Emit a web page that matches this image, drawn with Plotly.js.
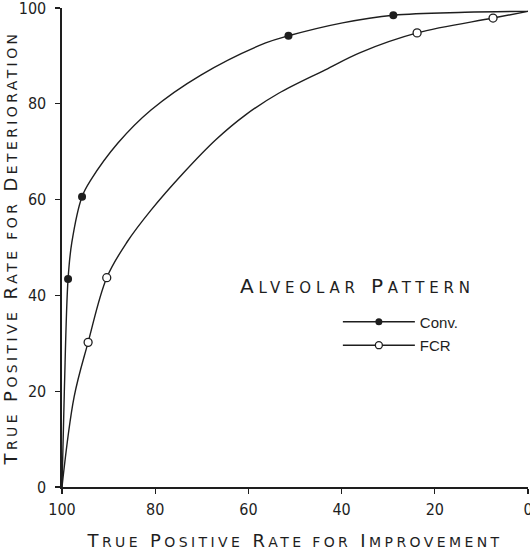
<!DOCTYPE html>
<html>
<head>
<meta charset="utf-8">
<script src="https://cdn.plot.ly/plotly-3.0.1.min.js"></script>
<style>
  html, body { margin: 0; padding: 0; background: #fff; }
  #chart { width: 530px; height: 555px; }
  .xtitle, .ytitle { letter-spacing: 3.4px; }
  .annotation-text { letter-spacing: 4.8px; }
</style>
</head>
<body>
<div id="chart"></div>
<script>
// Curve traces (x = TPR for improvement, y = TPR for deterioration)
const convCurveX = [100, 99.5, 98.7, 97.9, 95.7, 93.8, 88.0, 80.9, 70.2, 56.3, 51.4, 39.8, 28.9, 13.5, 0];
const convCurveY = [0, 20, 43.4, 51, 60.6, 64.1, 71.8, 78.7, 86.0, 92.7, 94.2, 96.9, 98.5, 99.1, 99.3];
const fcrCurveX = [100, 97.4, 94.4, 90.4, 86.0, 80.9, 74.0, 67.0, 60.6, 53.5, 43.5, 36.0, 23.8, 7.5, 0];
const fcrCurveY = [0, 18.8, 30.2, 43.7, 51.2, 57.8, 65.5, 72.5, 77.7, 82.2, 87.1, 90.7, 94.8, 97.9, 99.3];

// Plotted data points
const convX = [98.7, 95.7, 51.4, 28.9];
const convY = [43.4, 60.6, 94.2, 98.5];
const fcrX = [94.4, 90.4, 23.8, 7.5];
const fcrY = [30.2, 43.7, 94.8, 97.9];

const xTicks = [100, 80, 60, 40, 20, 0];
const yTicks = [0, 20, 40, 60, 80, 100];
const seriesNames = ['Conv.', 'FCR'];

const ink = '#1e1e1e';
const tickFont = {family: '"Liberation Sans Narrow", "DejaVu Sans Condensed", "Liberation Sans", sans-serif', size: 16, color: ink};
const titleFamily = '"DejaVu Sans", sans-serif';
const sc = s => '<span style="font-size:14px">' + s + '</span>';

const traces = [
  {x: convCurveX, y: convCurveY, mode: 'lines', line: {color: ink, width: 1.4, shape: 'spline', smoothing: 1}, showlegend: false, hoverinfo: 'skip'},
  {x: fcrCurveX, y: fcrCurveY, mode: 'lines', line: {color: ink, width: 1.4, shape: 'spline', smoothing: 1}, showlegend: false, hoverinfo: 'skip'},
  {x: convX, y: convY, mode: 'markers', marker: {size: 8, color: ink, symbol: 'circle'}, showlegend: false},
  {x: fcrX, y: fcrY, mode: 'markers', marker: {size: 8, color: '#fff', symbol: 'circle', line: {color: ink, width: 1.3}}, showlegend: false},
  {x: [null], y: [null], mode: 'lines+markers', name: seriesNames[0], legendgroup: 'a',
   line: {color: ink, width: 1.4}, marker: {size: 7, color: ink}},
  {x: [null], y: [null], mode: 'lines+markers', name: seriesNames[1], legendgroup: 'b',
   line: {color: ink, width: 1.4}, marker: {size: 7, color: '#fff', line: {color: ink, width: 1.3}}}
];

const layout = {
  width: 530, height: 555,
  margin: {l: 62, r: 2, t: 8, b: 68},
  paper_bgcolor: '#fff', plot_bgcolor: '#fff',
  showlegend: true,
  legend: {x: 0.592, y: 0.379, xanchor: 'left', yanchor: 'top', bgcolor: 'rgba(0,0,0,0)',
           font: {family: '"Liberation Sans", Arial, sans-serif', size: 15, color: ink},
           itemwidth: 72, traceorder: 'grouped', tracegroupgap: 1},
  xaxis: {
    range: [100, 0], tickvals: xTicks, ticktext: xTicks.map(String),
    ticks: 'outside', ticklen: 5, tickwidth: 1.3, tickcolor: ink,
    showline: true, linecolor: ink, linewidth: 1.6, showgrid: false, zeroline: false,
    tickfont: tickFont, ticklabelstandoff: 2, ticklabeloverflow: 'allow',
    title: {text: 'T' + sc('RUE') + ' P' + sc('OSITIVE') + ' R' + sc('ATE FOR') + ' I' + sc('MPROVEMENT'),
            font: {family: titleFamily, size: 18, color: ink}, standoff: 16}
  },
  yaxis: {
    range: [0, 100], tickvals: yTicks, ticktext: yTicks.map(String),
    ticks: 'outside', ticklen: 5, tickwidth: 1.3, tickcolor: ink,
    showline: true, linecolor: ink, linewidth: 1.6, showgrid: false, zeroline: false,
    tickfont: tickFont, ticklabelstandoff: 6, ticklabeloverflow: 'allow',
    title: {text: 'T' + sc('RUE') + ' P' + sc('OSITIVE') + ' R' + sc('ATE FOR') + ' D' + sc('ETERIORATION'),
            font: {family: titleFamily, size: 18, color: ink}, standoff: 8}
  },
  annotations: [{
    xref: 'paper', yref: 'paper', x: 0.634, y: 0.42, xanchor: 'center', yanchor: 'middle', showarrow: false,
    text: 'A<span style="font-size:15px">LVEOLAR</span> P<span style="font-size:15px">ATTERN</span>',
    font: {family: titleFamily, size: 20, color: ink}
  }]
};

Plotly.newPlot('chart', traces, layout, {staticPlot: true, displayModeBar: false});
</script>
</body>
</html>
